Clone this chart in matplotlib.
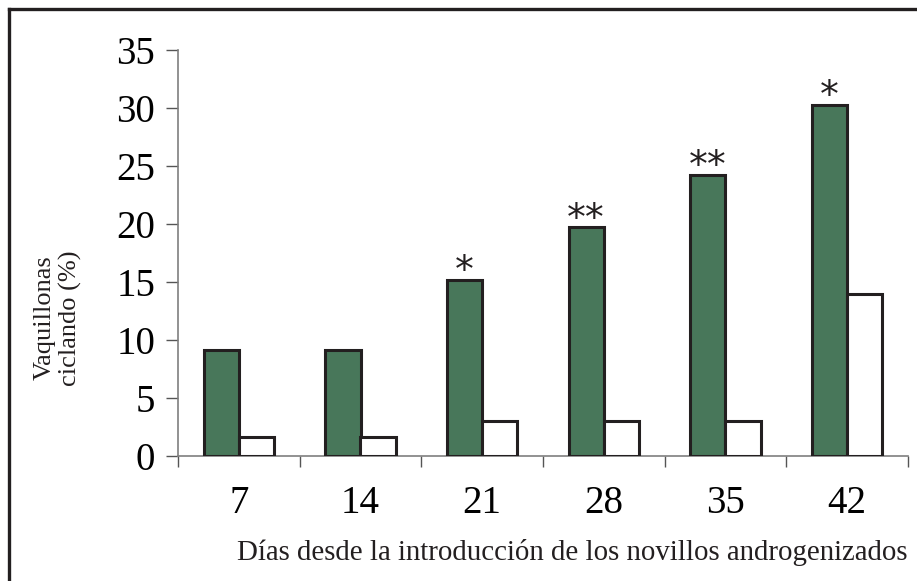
import matplotlib
matplotlib.use("Agg")
import matplotlib.pyplot as plt
from matplotlib.lines import Line2D
import numpy as np

# Days since introduction of androgenized steers
days = ["7", "14", "21", "28", "35", "42"]
treated = [9.1, 9.1, 15.2, 19.7, 24.2, 30.3]
control = [1.6, 1.6, 3.0, 3.0, 3.0, 14.0]
significance = ["", "", "*", "**", "**", "*"]

plt.rcParams["font.family"] = ["Liberation Serif", "DejaVu Serif"]

W, H = 917, 581
fig = plt.figure(figsize=(W / 100, H / 100), dpi=100)
ax = fig.add_axes([178 / W, 1 - 456 / H, (908 - 178) / W, (456 - 50) / H])

x = np.arange(len(days))
bw = 0.29
edge = "#231f20"
ax.bar(x - bw / 2, treated, bw, color="#48775a", edgecolor=edge, linewidth=2.2, zorder=3)
ax.bar(x + bw / 2, control, bw, color="white", edgecolor=edge, linewidth=2.2, zorder=3)

for xi, v, s in zip(x, treated, significance):
    if s:
        ax.annotate(s, (xi - bw / 2, v), xytext=(0, -1.5), textcoords="offset points",
                    ha="center", va="baseline", fontsize=27, color="#231f20",
                    fontfamily="DejaVu Sans")

ax.set_xlim(-0.5, len(days) - 0.5)
ax.set_ylim(0, 35)
ax.set_yticks(range(0, 36, 5))
ax.set_yticklabels([str(v) for v in range(0, 36, 5)], fontsize=28)

# Ticks on category boundaries, labels at category centres
ax.set_xticks(np.arange(len(days) + 1) - 0.5)
ax.set_xticklabels([])
ax.set_xticks(x, minor=True)
ax.set_xticklabels(days, minor=True, fontsize=28)
ax.tick_params(axis="x", which="minor", length=0, pad=21)
ax.tick_params(axis="x", which="major", direction="out", length=8, width=1, color="#555555")
ax.tick_params(axis="y", direction="out", length=8.5, width=1, color="#555555", pad=8)

for side in ("top", "right"):
    ax.spines[side].set_visible(False)
for side in ("left", "bottom"):
    ax.spines[side].set_color("#7f7f7f")
    ax.spines[side].set_linewidth(1.2)

fig.text(572 / W, 1 - 552 / H,
         "Días desde la introducción de los novillos androgenizados",
         ha="center", va="center", fontsize=20.8, color="#231f20")
fig.text(58 / W, 1 - 318 / H, "Vaquillonas\nciclando (%)", rotation=90,
         ha="center", va="center", fontsize=19, color="#231f20",
         linespacing=1.15, multialignment="center")

# Partial frame around the figure
fig.add_artist(Line2D([9 / W, 9 / W], [0, 1 - 9 / H], transform=fig.transFigure,
                      color="#231f20", linewidth=2.4))
fig.add_artist(Line2D([9 / W, 1], [1 - 9 / H, 1 - 9 / H], transform=fig.transFigure,
                      color="#231f20", linewidth=2.4))

fig.savefig("out.png", dpi=100)
